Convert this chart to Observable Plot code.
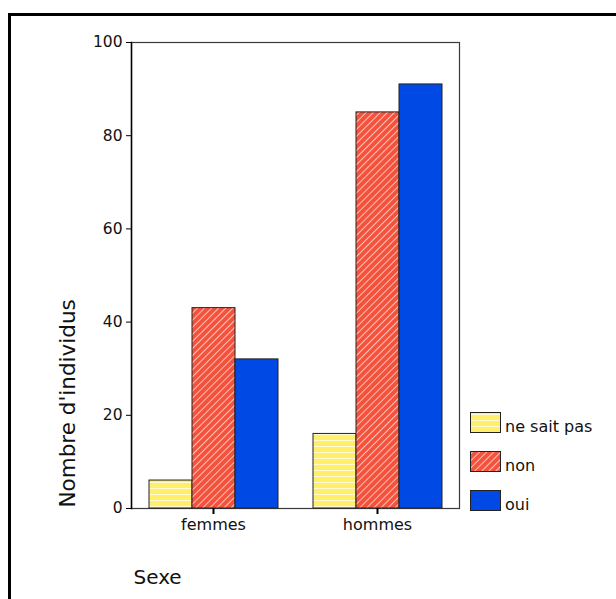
<!DOCTYPE html>
<html>
<head>
<meta charset="utf-8">
<script src="https://cdn.jsdelivr.net/npm/d3@7"></script>
<script src="https://cdn.jsdelivr.net/npm/@observablehq/plot@0.6"></script>
<style>
  html, body { margin: 0; padding: 0; background: white; }
  #wrap { position: relative; width: 616px; height: 599px; overflow: hidden; font-family: "DejaVu Sans", sans-serif; }
  #border { position: absolute; left: 8px; top: 13px; width: 800px; height: 800px; border: 3px solid #000; box-sizing: border-box; pointer-events: none; }
  #chart { position: absolute; left: 0; top: 0; }
  #legend { position: absolute; left: 470px; top: 412px; }
  .item { position: absolute; left: 0; height: 22px; white-space: nowrap; font-size: 16px; color: #111; }
  .item svg { position: absolute; left: 0; top: 0; }
  .item span { position: absolute; left: 35px; top: 5px; }
</style>
</head>
<body>
<div id="wrap">
  <div id="chart"></div>
  <div id="border"></div>
  <div id="legend"></div>
</div>
<script>
// ---- data ----
const sexes = ["femmes", "hommes"];
const answers = ["ne sait pas", "non", "oui"];
const femmesCounts = [6, 43, 32];
const hommesCounts = [16, 85, 91];
const yTicks = [0, 20, 40, 60, 80, 100];
const yLabel = "Nombre d'individus";
const xLabel = "Sexe";

const fills = ["url(#pYellow)", "url(#pRed)", "#0049E5"];

const rows = [];
answers.forEach((a, i) => rows.push({sexe: "femmes", reponse: a, n: femmesCounts[i]}));
answers.forEach((a, i) => rows.push({sexe: "hommes", reponse: a, n: hommesCounts[i]}));

const chart = Plot.plot({
  width: 616,
  height: 599,
  marginLeft: 131,
  marginRight: 157,
  marginTop: 42,
  marginBottom: 91,
  style: {fontFamily: "DejaVu Sans, sans-serif", fontSize: "15px", color: "#111", background: "transparent", overflow: "visible"},
  fx: {domain: sexes, padding: 0, axis: null},
  x: {domain: answers, paddingInner: 0, paddingOuter: 0.378, axis: null},
  y: {domain: [0, 100], axis: null},
  color: {domain: answers, range: fills},
  marks: [
    Plot.frame({facet: "super", stroke: "#3a3a3a", strokeWidth: 1.2}),
    Plot.barY(rows, {fx: "sexe", x: "reponse", y: "n", fill: "reponse", stroke: "#222", strokeWidth: 1}),
    Plot.axisY({ticks: yTicks, tickSize: 5, tickPadding: 4, label: null, stroke: "#000", fill: "#111", fontSize: 15.5}),
    Plot.frame({facet: "super", anchor: "left", stroke: "#000", strokeWidth: 1.5}),
    Plot.axisFx({anchor: "bottom", tickSize: 6, tickPadding: 4, label: null, fontSize: 16, stroke: "#000", strokeWidth: 2}),
    Plot.text([yLabel], {facet: "super", text: d => d, frameAnchor: "bottom-left", rotate: -90, textAnchor: "start", lineAnchor: "middle", dx: -63, dy: -1, fontSize: 21.5, fill: "#111"}),
    Plot.text([xLabel], {facet: "super", text: d => d, frameAnchor: "bottom-left", textAnchor: "start", lineAnchor: "bottom", dx: 2, dy: 75, fontSize: 20, fill: "#111"})
  ]
});

// pattern definitions
const defs = d3.select(chart).insert("defs", ":first-child");
const py = defs.append("pattern").attr("id", "pYellow").attr("patternUnits", "userSpaceOnUse")
  .attr("width", 6).attr("height", 6);
py.append("rect").attr("width", 6).attr("height", 6).attr("fill", "#FFEF6A");
py.append("rect").attr("y", 2).attr("width", 6).attr("height", 1).attr("fill", "#FFFAD2");
const pr = defs.append("pattern").attr("id", "pRed").attr("patternUnits", "userSpaceOnUse")
  .attr("width", 5).attr("height", 5).attr("patternTransform", "rotate(45)");
pr.append("rect").attr("width", 5).attr("height", 5).attr("fill", "#F5523D");
pr.append("rect").attr("x", 2).attr("width", 1).attr("height", 5).attr("fill", "rgba(255,215,205,0.85)");

document.getElementById("chart").appendChild(chart);

// legend
const legend = document.getElementById("legend");
answers.forEach((a, i) => {
  const item = document.createElement("div");
  item.className = "item";
  item.style.top = (i * 39) + "px";
  item.innerHTML = `<svg width="32" height="22"><rect x="0.5" y="0.5" width="30" height="20" fill="${fills[i]}" stroke="#222" stroke-width="1"/></svg><span>${a}</span>`;
  legend.appendChild(item);
});
</script>
</body>
</html>
